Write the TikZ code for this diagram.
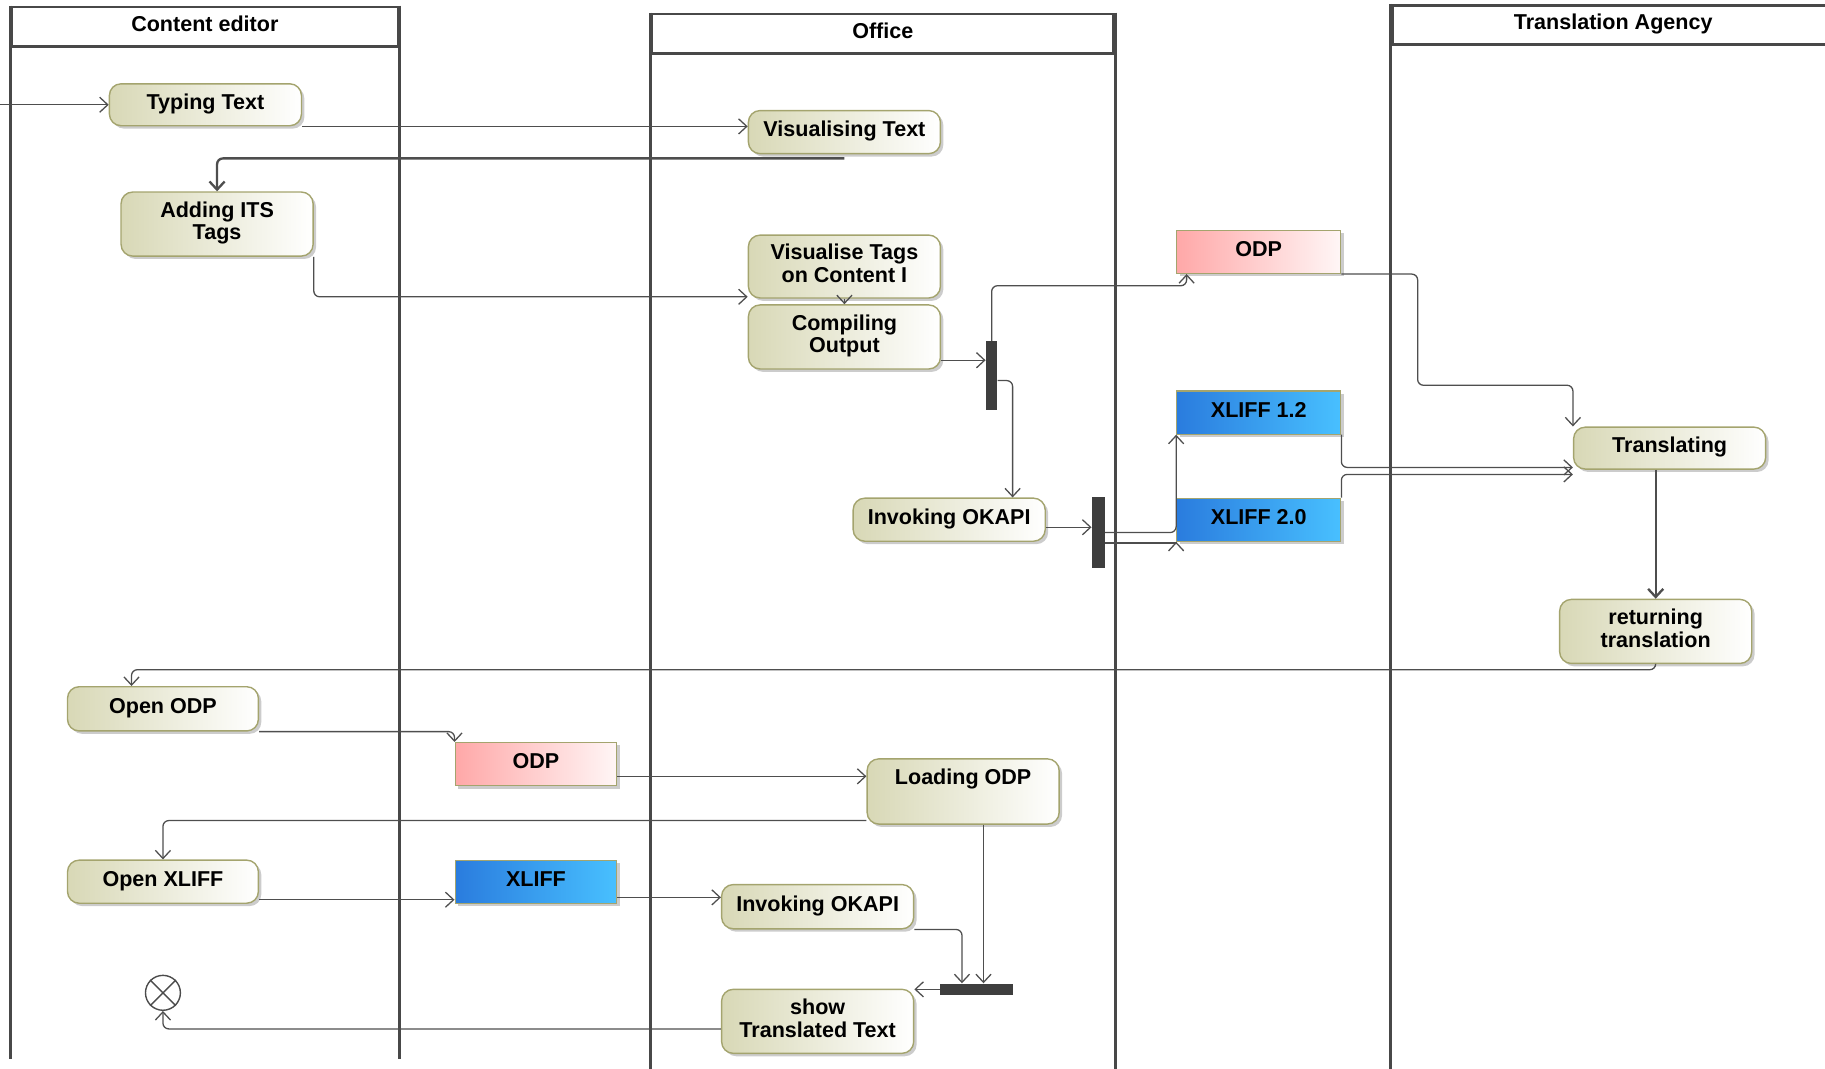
\documentclass[tikz,border=0pt]{standalone}
\usepackage{fontspec}
\setmainfont{Liberation Sans}
\usetikzlibrary{arrows.meta,shadows}
\definecolor{actL}{RGB}{216,216,182}
\definecolor{actB}{RGB}{164,164,110}
\definecolor{odpL}{RGB}{255,168,168}
\definecolor{odpR}{RGB}{255,246,246}
\definecolor{xlL}{RGB}{42,124,222}
\definecolor{xlR}{RGB}{72,192,255}
\definecolor{edgec}{RGB}{78,78,78}
\definecolor{lanec}{RGB}{72,72,72}
\definecolor{barc}{RGB}{62,62,62}
\tikzset{
  fnt/.style={font=\bfseries\fontsize{18.5}{19.5}\selectfont},
  shad/.style={drop shadow={shadow xshift=2.5pt,shadow yshift=-2.5pt,fill=black!40,opacity=0.5}},
  action/.style={fnt, shad, draw=actB, line width=1.2pt, rounded corners=10pt,
    left color=actL, right color=white, minimum width=165pt, align=center, inner sep=0pt},
  obj/.style={fnt, shad, draw=actB, line width=1pt, minimum width=141pt,
    minimum height=37pt, align=center, inner sep=0pt},
  odpbox/.style={obj, left color=odpL, right color=odpR},
  xlbox/.style={obj, left color=xlL, right color=xlR},
  bar/.style={fill=barc, draw=none, inner sep=0pt},
  lanehead/.style={fnt, draw=lanec, line width=2.5pt, minimum height=34pt, inner sep=0pt},
  lane/.style={draw=lanec, line width=2.5pt},
  flow/.style={draw=edgec, line width=1.1pt, rounded corners=5pt,
    -{Straight Barb[length=7pt,width=13pt]}},
  heavy/.style={flow, line width=2pt},
}
\begin{document}
\begin{tikzpicture}[x=1pt,y=-1pt]
\useasboundingbox (0,0) rectangle (1568,918);

% swimlanes
\node[lanehead, minimum width=332pt] (h1) at (176,23) {\strut Content editor};
\node[lanehead, minimum width=397pt] (h2) at (758.5,29) {\strut Office};
\node[lanehead, minimum width=380pt] (h3) at (1386,21.5) {\strut Translation Agency};
\draw[lane] (h1.north west) -- (h1.north west |- 0,910);
\draw[lane] (h1.north east) -- (h1.north east |- 0,910);
\draw[lane] (h2.north west) -- (h2.north west |- 0,925);
\draw[lane] (h2.north east) -- (h2.north east |- 0,925);
\draw[lane] (h3.north west) -- (h3.north west |- 0,925);

% actions
\node[action, minimum height=36pt] (tt) at (176.5,90) {\strut Typing Text};
\node[action, minimum height=37pt] (vt) at (725.5,113.5) {\strut Visualising Text};
\node[action, minimum height=55pt] (ai) at (186.5,192.5) {\strut Adding ITS\\\strut Tags};
\node[action, minimum height=54pt] (vg) at (725.5,229) {\strut Visualise Tags\\\strut on Content I};
\node[action, minimum height=55pt] (co) at (725.5,289.5) {\strut Compiling\\\strut Output};
\node[action, minimum height=37pt] (io1) at (815.5,446.5) {\strut Invoking OKAPI};
\node[action, minimum height=36pt] (tr) at (1434.5,385) {\strut Translating};
\node[action, minimum height=55pt] (rt) at (1422.5,542.5) {\strut returning\\\strut translation};
\node[action, minimum height=38pt, minimum width=164pt] (oo) at (140,609) {\strut Open ODP};
\node[action, minimum height=56pt] (lo) at (827.5,680) {\strut Loading ODP\\\strut};
\node[action, minimum height=37pt, minimum width=164pt] (ox) at (140,757.5) {\strut Open XLIFF};
\node[action, minimum height=38pt] (io2) at (702.5,779) {\strut Invoking OKAPI};
\node[action, minimum height=55pt] (st) at (702.5,877.5) {\strut show\\\strut Translated Text};

% objects
\node[odpbox] (odp1) at (1081.5,216.5) {\strut ODP};
\node[xlbox] (x12) at (1081.5,354.5) {\strut XLIFF 1.2};
\node[xlbox] (x20) at (1081.5,446.5) {\strut XLIFF 2.0};
\node[odpbox, minimum width=139pt] (odp2) at (460.5,656.5) {\strut ODP};
\node[xlbox, minimum width=139pt] (xl) at (460.5,757.5) {\strut XLIFF};

% fork / join bars
\node[bar, minimum width=10pt, minimum height=59pt] (b1) at (852,322.5) {};
\node[bar, minimum width=11pt, minimum height=61pt] (b2) at (943.5,457.5) {};
\node[bar, minimum width=62pt, minimum height=10pt] (b3) at (839,850) {};

% flow final
\node[circle, draw=black!70, line width=1.2pt, fill=white, minimum size=30pt, inner sep=0pt] (fin) at (140,853) {};
\draw[black!70, line width=1.2pt] (fin.north west) -- (fin.south east) (fin.north east) -- (fin.south west);

% flows
\coordinate (start) at (0,90);
\draw[flow] (start) -- (tt.west);
\draw[flow] (tt.south east) -- (tt.south east -| vt.west);
\draw[heavy] ([yshift=-3.5pt]vt.south) -| (ai.north);
\draw[flow] (ai.south east) |- ([yshift=-26pt]vg.west);
\draw[flow] (vg.south) -- (co.north);
\draw[flow] ([yshift=-20pt]co.east) -- ([yshift=-20pt]co.east -| b1.west);
\draw[flow] (b1.north) |- ([xshift=9pt,yshift=-10pt]odp1.south west) -- ([xshift=9pt]odp1.south west);
\draw[flow] ([yshift=-4.5pt]b1.east) -| ([xshift=54.5pt]io1.north);
\draw[flow] ([yshift=-6.5pt]io1.east) -- ([yshift=-6.5pt]io1.east -| b2.west);
\draw[flow] (b2.east) -| (x12.south west);
\draw[flow, sharp corners] ([yshift=-9pt]b2.east) -| (x20.south west);
\draw[flow] (odp1.south east) -| (1218,331) -| (tr.north west);
\draw[flow] (x12.south east) |- ([yshift=2pt]tr.south west);
\draw[flow] (x20.north east) |- ([yshift=-4pt]tr.south west);
\draw[heavy] (rt.north |- tr.south) -- (rt.north);
\draw[flow] (rt.south) |- ([xshift=-27pt,yshift=14pt]oo.north) -- ([xshift=-27pt]oo.north);
\draw[flow] (oo.south east) -| (odp2.north west);
\draw[flow] ([yshift=-10.5pt]odp2.east) -- ([yshift=-10.5pt]odp2.east -| lo.west);
\draw[flow] ([yshift=-25pt]lo.west) -| (ox.north);
\draw[flow] ([yshift=-15.5pt]ox.east) -- ([yshift=-15.5pt]ox.east -| xl.west);
\draw[flow] ([yshift=-13.5pt]xl.east) -- ([yshift=-13.5pt]xl.east -| io2.west);
\draw[flow] ([xshift=17.5pt]lo.south) -- ([xshift=17.5pt]lo.south |- b3.north);
\draw[flow] (io2.south east) -| ([xshift=-12.5pt]b3.north);
\draw[flow] (b3.west) -- (b3.west -| st.east);
\draw[flow] ([yshift=-6.5pt]st.west) -| (fin.south);
\end{tikzpicture}
\end{document}
